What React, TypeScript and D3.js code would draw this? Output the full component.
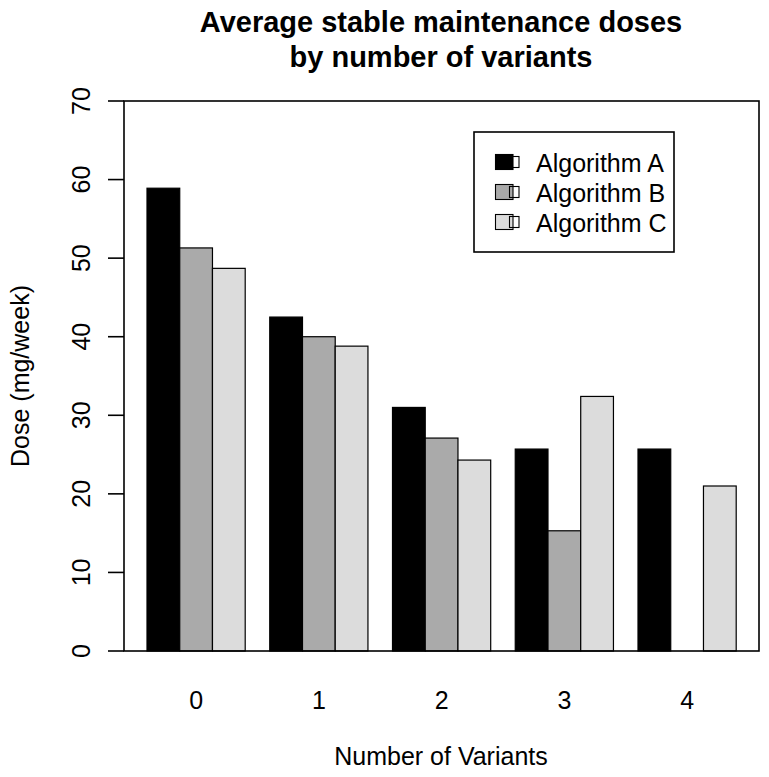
import React from "react";
import * as d3 from "d3";

const categories = ["0", "1", "2", "3", "4"];
const seriesNames = ["Algorithm A", "Algorithm B", "Algorithm C"];
const algorithmA = [58.9, 42.5, 31.0, 25.7, 25.7];
const algorithmB = [51.3, 40.0, 27.1, 15.3, 0];
const algorithmC = [48.7, 38.8, 24.3, 32.4, 21.0];
const seriesColors = ["#000000", "#aaaaaa", "#dcdcdc"];
const yTicks = [0, 10, 20, 30, 40, 50, 60, 70];

const titleLines = ["Average stable maintenance doses", "by number of variants"];
const xTitle = "Number of Variants";
const yTitle = "Dose (mg/week)";

const W = 769;
const H = 777;
const box = { left: 124, right: 759, top: 101, bottom: 651 };
const font = "'Liberation Sans', Arial, Helvetica, sans-serif";

export default function App() {
  const series = [algorithmA, algorithmB, algorithmC];
  const y = d3.scaleLinear().domain([0, 70]).range([box.bottom, box.top]);
  const x0 = d3
    .scaleBand<string>()
    .domain(categories)
    .range([147, 736.2])
    .paddingInner(0.2)
    .paddingOuter(0);
  const x1 = d3
    .scaleBand<number>()
    .domain(d3.range(series.length))
    .range([0, x0.bandwidth()])
    .padding(0);

  const legendX = 474;
  const legendY = 132;
  const legendW = 200;
  const legendH = 120;

  return (
    <svg width={W} height={H} style={{ position: "absolute", left: 0, top: 0, background: "#fff" }} fontFamily={font}>
      <rect x={0} y={0} width={W} height={H} fill="#fff" />
      {/* title */}
      <text x={441} y={32} textAnchor="middle" fontSize={29} fontWeight="bold" fill="#000">
        {titleLines[0]}
      </text>
      <text x={441} y={67} textAnchor="middle" fontSize={29} fontWeight="bold" fill="#000">
        {titleLines[1]}
      </text>

      {/* bars */}
      {categories.map((c, ci) => (
        <g key={c}>
          {series.map((s, si) => {
            const v = s[ci];
            const bx = (x0(c) ?? 0) + (x1(si) ?? 0);
            return (
              <rect
                key={si}
                x={bx}
                y={y(v)}
                width={x1.bandwidth()}
                height={y(0) - y(v)}
                fill={seriesColors[si]}
                stroke="#000"
                strokeWidth={1.2}
              />
            );
          })}
        </g>
      ))}

      {/* box */}
      <rect
        x={box.left}
        y={box.top}
        width={box.right - box.left}
        height={box.bottom - box.top}
        fill="none"
        stroke="#000"
        strokeWidth={1.6}
      />

      {/* y axis ticks */}
      {yTicks.map((t) => (
        <g key={t}>
          <line x1={108} x2={box.left} y1={y(t)} y2={y(t)} stroke="#000" strokeWidth={1.6} />
          <text
            transform={`translate(90, ${y(t)}) rotate(-90)`}
            textAnchor="middle"
            fontSize={25}
            fill="#000"
          >
            {t}
          </text>
        </g>
      ))}

      {/* x labels */}
      {categories.map((c) => (
        <text
          key={c}
          x={(x0(c) ?? 0) + x0.bandwidth() / 2}
          y={709}
          textAnchor="middle"
          fontSize={25}
          fill="#000"
        >
          {c}
        </text>
      ))}

      {/* axis titles */}
      <text x={441} y={765} textAnchor="middle" fontSize={25} fill="#000">
        {xTitle}
      </text>
      <text transform={`translate(29, ${(box.top + box.bottom) / 2}) rotate(-90)`} textAnchor="middle" fontSize={25} fill="#000">
        {yTitle}
      </text>

      {/* legend */}
      <rect x={legendX} y={legendY} width={legendW} height={legendH} fill="#fff" stroke="#000" strokeWidth={1.6} />
      {seriesNames.map((name, i) => {
        const cy = 162 + i * 30;
        return (
          <g key={name}>
            <rect x={495.5} y={cy - 7.5} width={17.5} height={15} fill={seriesColors[i]} stroke="#000" strokeWidth={1.1} />
            <rect x={509.5} y={cy - 5.5} width={9.5} height={11} fill="none" stroke="#000" strokeWidth={1.1} />
            <text x={536} y={cy + 9.5} fontSize={25} fill="#000">
              {name}
            </text>
          </g>
        );
      })}
    </svg>
  );
}
